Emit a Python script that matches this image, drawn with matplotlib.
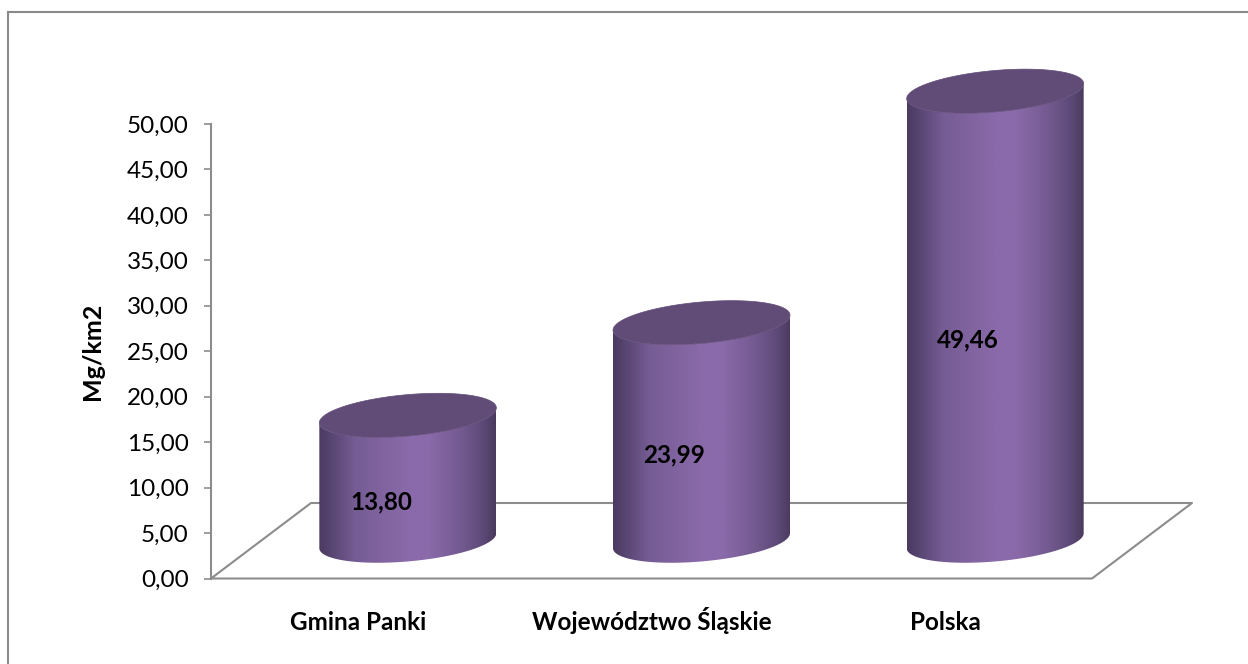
import numpy as np
import matplotlib
matplotlib.use('Agg')
import matplotlib.pyplot as plt
from matplotlib.colors import LinearSegmentedColormap
from matplotlib.lines import Line2D
from matplotlib.patches import Polygon

categories = ['Gmina Panki', 'Województwo Śląskie', 'Polska']
values = [13.80, 23.99, 49.46]
value_labels = ['13,80', '23,99', '49,46']
y_ticks = [0, 5, 10, 15, 20, 25, 30, 35, 40, 45, 50]
y_tick_labels = ['0,00', '5,00', '10,00', '15,00', '20,00', '25,00',
                 '30,00', '35,00', '40,00', '45,00', '50,00']
y_label = 'Mg/km2'

W, H = 1248, 664
plt.rcParams['font.family'] = ['Lato', 'DejaVu Sans']

fig = plt.figure(figsize=(W / 100, H / 100), dpi=100)

# axes placed in pixels: 0 at y=578.5, 50 at y=124, 3 categories from x=211 to 1092
px_unit = 9.09
ymax = 60
ax = fig.add_axes([211 / W, 1 - 578.5 / H, 881 / W, ymax * px_unit / H])
ax.patch.set_visible(False)

px_cat = 881 / 3
depth_x = 100 / px_cat
depth_y = 75.5 / px_unit
half_w = 88.5 / px_cat
shear = 7.5 / px_unit
half_h = 20.7 / px_unit

grey = '#8c8c8c'
side_cmap = LinearSegmentedColormap.from_list('side', [
    (0.0, '#4b3a62'), (0.08, '#5a4775'), (0.2, '#755c93'), (0.5, '#8a6aaa'),
    (0.62, '#8a6aaa'), (0.8, '#735a90'), (0.92, '#5f4b7a'), (1.0, '#4a3a5e')])

t = np.linspace(0, np.pi, 80)

# floor
ax.plot([-0.5, 2.5, 2.5 + depth_x, -0.5 + depth_x, -0.5],
        [0, 0, depth_y, depth_y, 0], color=grey, lw=1.5, clip_on=False, zorder=1)

# cylinders
for i, v in enumerate(values):
    cx = i + depth_x / 2
    base = depth_y / 2
    xs = cx - half_w * np.cos(t)
    low = base - shear * np.cos(t) - half_h * np.sin(t)
    top_low = base + v - shear * np.cos(t) - half_h * np.sin(t)
    top_high = base + v - shear * np.cos(t) + half_h * np.sin(t)

    side = Polygon(np.column_stack([np.r_[xs, xs[::-1]], np.r_[low, top_low[::-1]]]),
                   transform=ax.transData, fc='none', ec='none')
    ax.add_patch(side)
    im = ax.imshow(np.linspace(0, 1, 256).reshape(1, -1), cmap=side_cmap, aspect='auto',
                   extent=[cx - half_w, cx + half_w, base - 5, base + v + 5], zorder=3)
    im.set_clip_path(side)
    ax.fill(np.r_[xs, xs[::-1]], np.r_[top_low, top_high[::-1]],
            color='#614b77', lw=0.5, zorder=4)
    ax.text(i + 23 / px_cat, v / 2 + 1.55, value_labels[i], ha='center', va='center',
            fontsize=17.5, fontweight='bold', color='black', zorder=5)

ax.set_xlim(-0.5, 2.5)
ax.set_ylim(0, ymax)

for s in ['top', 'right', 'bottom']:
    ax.spines[s].set_visible(False)
ax.spines['left'].set_bounds(0, 50)
ax.spines['left'].set_color(grey)
ax.spines['left'].set_linewidth(1.5)

ax.set_yticks(y_ticks)
ax.set_yticklabels(y_tick_labels, fontsize=17.5, color='black')
ax.tick_params(axis='y', length=5, width=1.2, color=grey, pad=11)
ax.set_xticks(range(len(categories)))
ax.set_xticklabels(categories, fontsize=17.5, fontweight='bold', color='black', va='baseline')
ax.tick_params(axis='x', length=0, pad=37)
ax.set_ylabel(y_label, fontsize=18, fontweight='bold', color='black')
ax.yaxis.set_label_coords((104 - 211) / 881, (578.5 - 351) / (ymax * px_unit))

# chart frame, only left and top edges are inside the picture
fig.add_artist(Line2D([8 / W, 8 / W], [0, 1 - 12 / H], color='#8a8a8a', lw=1.5))
fig.add_artist(Line2D([8 / W, 1], [1 - 12 / H, 1 - 12 / H], color='#8a8a8a', lw=1.5))

fig.savefig('out.png', dpi=100)
